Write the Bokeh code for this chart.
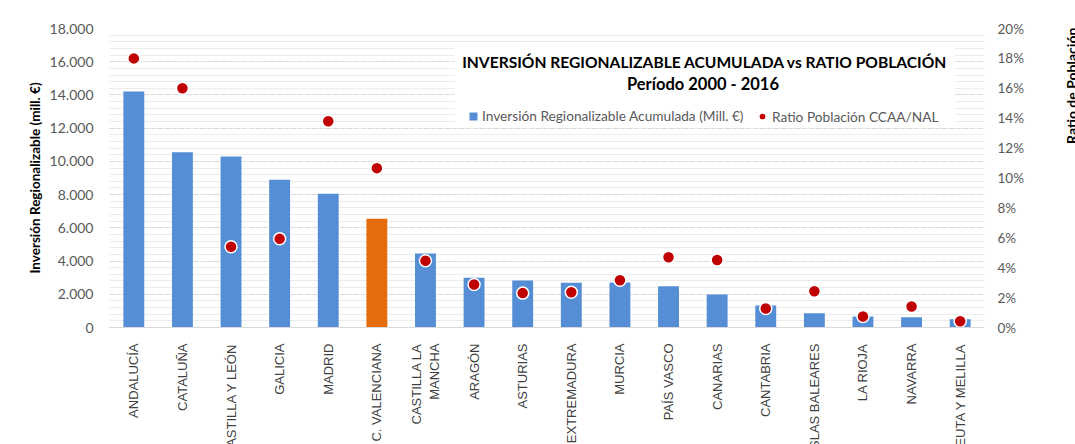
from math import pi
from bokeh.plotting import figure
from bokeh.models import (ColumnDataSource, FactorRange, Range1d, LinearAxis,
                          SingleIntervalTicker, FixedTicker, CustomJSTickFormatter,
                          Legend, LegendItem, Label, BoxAnnotation)
from bokeh.embed import file_html
from bokeh.resources import INLINE

# ---------------- data ----------------
categories = ["ANDALUCÍA", "CATALUÑA", "CASTILLA Y LEÓN", "GALICIA", "MADRID",
              "C. VALENCIANA", "CASTILLA LA\nMANCHA", "ARAGÓN", "ASTURIAS",
              "EXTREMADURA", "MURCIA", "PAÍS VASCO", "CANARIAS", "CANTABRIA",
              "ISLAS BALEARES", "LA RIOJA", "NAVARRA", "CEUTA Y MELILLA"]
inversion = [14200, 10550, 10300, 8900, 8050, 6550, 4450, 2990, 2830,
             2690, 2710, 2480, 1990, 1320, 860, 660, 620, 500]
ratio_pct = [18.0, 16.0, 5.4, 5.93, 13.8, 10.66, 4.46, 2.88, 2.3,
             2.36, 3.16, 4.7, 4.52, 1.27, 2.43, 0.74, 1.4, 0.42]
highlight = "C. VALENCIANA"

title_line1 = "INVERSIÓN REGIONALIZABLE ACUMULADA vs RATIO POBLACIÓN"
title_line2 = "Período  2000 - 2016"
series_bar = "Inversión Regionalizable Acumulada (Mill. €)"
series_dot = "Ratio Población CCAA/NAL"
left_label = "Inversión Regionalizable (mill. €)"
right_label = "Ratio de Población"

BLUE = "#558ED5"
ORANGE = "#E46C0A"
RED = "#C00000"
colors = [ORANGE if c == highlight else BLUE for c in categories]

src = ColumnDataSource(dict(cat=categories, inv=inversion, ratio=ratio_pct, color=colors))

p = figure(x_range=FactorRange(*categories, range_padding=0),
           y_range=Range1d(0, 18000),
           width=1094, height=477,
           min_border_left=109, min_border_top=28, min_border_right=110,
           min_border_bottom=150,
           output_backend="svg", toolbar_location=None)
p.outline_line_color = None
p.background_fill_color = "white"
p.border_fill_color = "white"

p.extra_y_ranges = {"ratio": Range1d(0, 20)}

# grid / left axis
p.yaxis.ticker = SingleIntervalTicker(interval=2000, num_minor_ticks=5)
p.yaxis.formatter = CustomJSTickFormatter(
    code="return tick.toString().replace(/\\B(?=(\\d{3})+(?!\\d))/g, '.');")
p.ygrid.grid_line_color = "#d9d9d9"
p.ygrid.grid_line_dash = "4 3"
p.ygrid.minor_grid_line_color = "#ececec"
p.xgrid.grid_line_color = None

for ax in p.yaxis:
    ax.axis_line_color = None
    ax.major_tick_line_color = None
    ax.minor_tick_line_color = None
    ax.major_label_text_font = "Lato"
    ax.major_label_text_font_size = "14px"
    ax.major_label_text_color = "#595959"
    ax.major_label_standoff = 10
    ax.axis_label = left_label
    ax.axis_label_text_font = "Lato"
    ax.axis_label_text_font_style = "bold"
    ax.axis_label_text_font_size = "13.5px"
    ax.axis_label_text_color = "#000000"
    ax.axis_label_standoff = 4

xa = p.xaxis[0]
xa.axis_line_color = "#d9d9d9"
xa.major_tick_line_color = None
xa.minor_tick_line_color = None
xa.major_label_orientation = pi / 2
xa.major_label_text_font = "Liberation Sans"
xa.major_label_text_font_size = "13px"
xa.major_label_text_color = "#404040"
xa.major_label_standoff = 10

# right axis (ticks)
ra = LinearAxis(y_range_name="ratio",
                ticker=SingleIntervalTicker(interval=2, num_minor_ticks=0),
                formatter=CustomJSTickFormatter(code="return tick.toFixed(0) + '%';"))
ra.axis_line_color = None
ra.major_tick_line_color = None
ra.minor_tick_line_color = None
ra.major_label_text_font = "Lato"
ra.major_label_text_font_size = "13.5px"
ra.major_label_text_color = "#595959"
ra.major_label_standoff = 7
p.add_layout(ra, "right")

# right axis title (reads bottom-to-top, raised towards the top like the original)
rt = LinearAxis(y_range_name="ratio", ticker=FixedTicker(ticks=[]))
rt.axis_line_color = None
rt.major_tick_line_color = None
rt.minor_tick_line_color = None
rt.major_label_text_alpha = 0
rt.axis_label = "\u00a0" * 10 + right_label
rt.axis_label_orientation = pi / 2
rt.axis_label_text_font = "Lato"
rt.axis_label_text_font_style = "bold"
rt.axis_label_text_font_size = "14px"
rt.axis_label_text_color = "#000000"
rt.axis_label_standoff = 45
p.add_layout(rt, "right")

# glyphs
bars = p.vbar(x="cat", top="inv", width=0.43, source=src, fill_color="color",
              line_color=None)
dots = p.scatter(x="cat", y="ratio", source=src, y_range_name="ratio", size=12,
                 fill_color=RED, line_color="white", line_width=1.5)

# white box behind title & legend
p.add_layout(BoxAnnotation(left=7.1, right=17.39, bottom=12040, top=16976,
                           fill_color="white", fill_alpha=1.0, line_color=None))

for txt, yv, fs in ((title_line1, 16010, "15.6px"), (title_line2, 14630, "16.5px")):
    p.add_layout(Label(x=12.25, y=yv, text=txt, text_align="center",
                       text_baseline="middle", text_font="Lato",
                       text_font_style="bold", text_font_size=fs,
                       text_color="#000000"))


def make_legend(item, loc, glyph):
    lg = Legend(items=[item], orientation="horizontal", location=loc)
    lg.label_text_font = "Lato"
    lg.label_text_font_size = "13.7px"
    lg.label_text_color = "#595959"
    lg.border_line_color = None
    lg.background_fill_alpha = 0
    lg.glyph_width = glyph
    lg.glyph_height = glyph
    lg.label_standoff = 4 if glyph < 12 else 1
    lg.padding = 0
    lg.margin = 0
    p.add_layout(lg, "center")


make_legend(LegendItem(label=series_bar, renderers=[bars], index=0), (359, 203), 10)
make_legend(LegendItem(label=series_dot, renderers=[dots]), (644, 202), 18)

open("out.html", "w").write(file_html(p, INLINE))
